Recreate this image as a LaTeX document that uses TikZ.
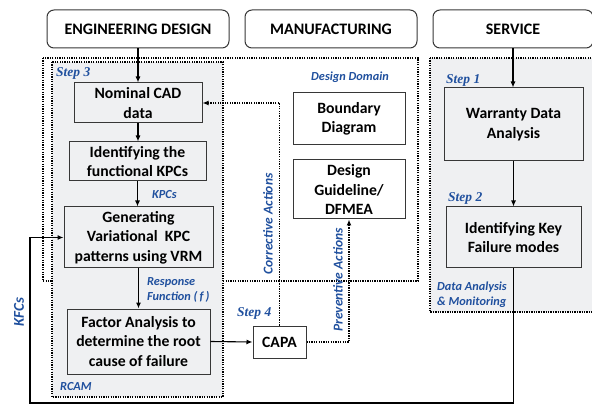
\documentclass[tikz,border=0pt]{standalone}
\usepackage{fontspec}
\setmainfont{Carlito}
\newfontfamily\stepfont{Liberation Serif}
\usetikzlibrary{arrows.meta}
\definecolor{lblue}{RGB}{32,80,158}
\definecolor{bgray}{RGB}{239,240,242}
\definecolor{edge}{RGB}{55,55,55}
\tikzset{
  hdr/.style={draw=edge, line width=1pt, rounded corners=7pt, fill=white, font=\fontsize{16}{18}\selectfont\bfseries, inner sep=0pt},
  gbox/.style={draw=edge, line width=1pt, fill=bgray, align=center, inner sep=0pt, font=\fontsize{15.7}{19.5}\selectfont\bfseries},
  wbox/.style={gbox, fill=white},
  region/.style={draw=black, line width=1.3pt, dash pattern=on 1.3pt off 1.1pt},
  arr/.style={line width=1.1pt, -{Latex[length=6pt,width=5pt]}},
  dotarr/.style={line width=1.2pt, dash pattern=on 1.3pt off 1.1pt, -{Latex[length=6pt,width=5pt]}},
  blab/.style={text=lblue, font=\fontsize{12.3}{15}\selectfont\bfseries\itshape, inner sep=0pt},
  rlab/.style={blab, rotate=90, font=\fontsize{13.5}{15}\selectfont\bfseries\itshape},
  steplab/.style={text=lblue, font=\fontsize{13.5}{16}\selectfont\stepfont\bfseries\itshape, inner sep=0pt}
}
\begin{document}
\begin{tikzpicture}[x=1pt,y=-1pt]
\useasboundingbox (0,0) rectangle (592,406);
% regions
\draw[region, fill=white] (43,58) rectangle (418,281);
\draw[region, fill=bgray] (52,62) rectangle (223,397);
\draw[region, fill=bgray] (430,58) rectangle (595,312);
% headers
\node[hdr, minimum width=182pt, minimum height=38pt] (ed) at (138,29) {ENGINEERING DESIGN};
\node[hdr, minimum width=172pt, minimum height=38pt] (mf) at (331,29) {MANUFACTURING};
\node[hdr, minimum width=160pt, minimum height=38pt] (sv) at (513,29) {SERVICE};
% left column
\node[gbox, minimum width=128pt, minimum height=40pt] (cad) at (138,103) {Nominal CAD\\data};
\node[gbox, minimum width=137pt, minimum height=39pt] (kpc) at (137.5,161.5) {Identifying the\\functional KPCs};
\node[gbox, minimum width=149pt, minimum height=61pt] (gen) at (138.5,237.5) {Generating\\Variational\ \ KPC\\patterns using VRM};
\node[gbox, minimum width=143pt, minimum height=65pt] (fac) at (138.5,341.5) {Factor Analysis to\\determine the root\\cause of failure};
% middle
\node[wbox, minimum width=53pt, minimum height=32pt] (capa) at (279.5,342) {CAPA};
\node[wbox, minimum width=112pt, minimum height=52pt] (bd) at (349,119) {Boundary\\Diagram};
\node[wbox, minimum width=112pt, minimum height=59pt] (dg) at (349,189.5) {Design\\Guideline/\\DFMEA};
% right
\node[gbox, minimum width=139pt, minimum height=73pt] (wda) at (513.5,124.5) {Warranty Data\\Analysis};
\node[gbox, minimum width=135pt, minimum height=61pt] (ikf) at (513.5,237.5) {Identifying Key\\Failure modes};
% labels
\node[steplab, anchor=west] (s3) at (56,73) {Step 3};
\node[steplab, anchor=west] (s4) at (237,313) {Step 4};
\node[steplab, anchor=west] (s1) at (446,80) {Step 1};
\node[steplab, anchor=west] (s2) at (448,198) {Step 2};
\node[blab, anchor=west] (lk) at (152,195) {KPCs};
\node[blab, anchor=west, align=left] (lr) at (147,289.5) {Response\\Function (\,\textit{f}\,)};
\node[blab, anchor=west] (lrc) at (60,387) {RCAM};
\node[blab] (ldd) at (350,77) {Design Domain};
\node[blab, anchor=west, align=left] (lda) at (437,294.5) {Data Analysis\\\& Monitoring};
\node[rlab, font=\fontsize{15}{17}\selectfont\bfseries\itshape] (lkf) at (19,312) {KFCs};
\node[rlab] (lca) at (268,224) {Corrective Actions};
\node[rlab] (lpa) at (338,280) {Preventive Actions};
% connectors
\draw[arr] (ed.south) -- (ed.south |- cad.north);
\draw[arr] (cad.south) -- (cad.south |- kpc.north);
\draw[arr] (kpc.south) -- (kpc.south |- gen.north);
\draw[arr] (gen.south) -- (gen.south |- fac.north);
\draw[arr] (fac.east) -- (capa.west);
\draw[arr] (sv.south) -- (sv.south |- wda.north);
\draw[arr] (wda.south) -- (wda.south |- ikf.north);
\draw[dotarr] (capa.north) -- (capa.north |- cad.east) -- (cad.east);
\draw[dotarr] (capa.east) -| (dg.south);
\coordinate (bl) at (30,403);
\draw[arr] (ikf.south) |- (bl) -- (bl |- gen.west) -- (gen.west);
\end{tikzpicture}
\end{document}
